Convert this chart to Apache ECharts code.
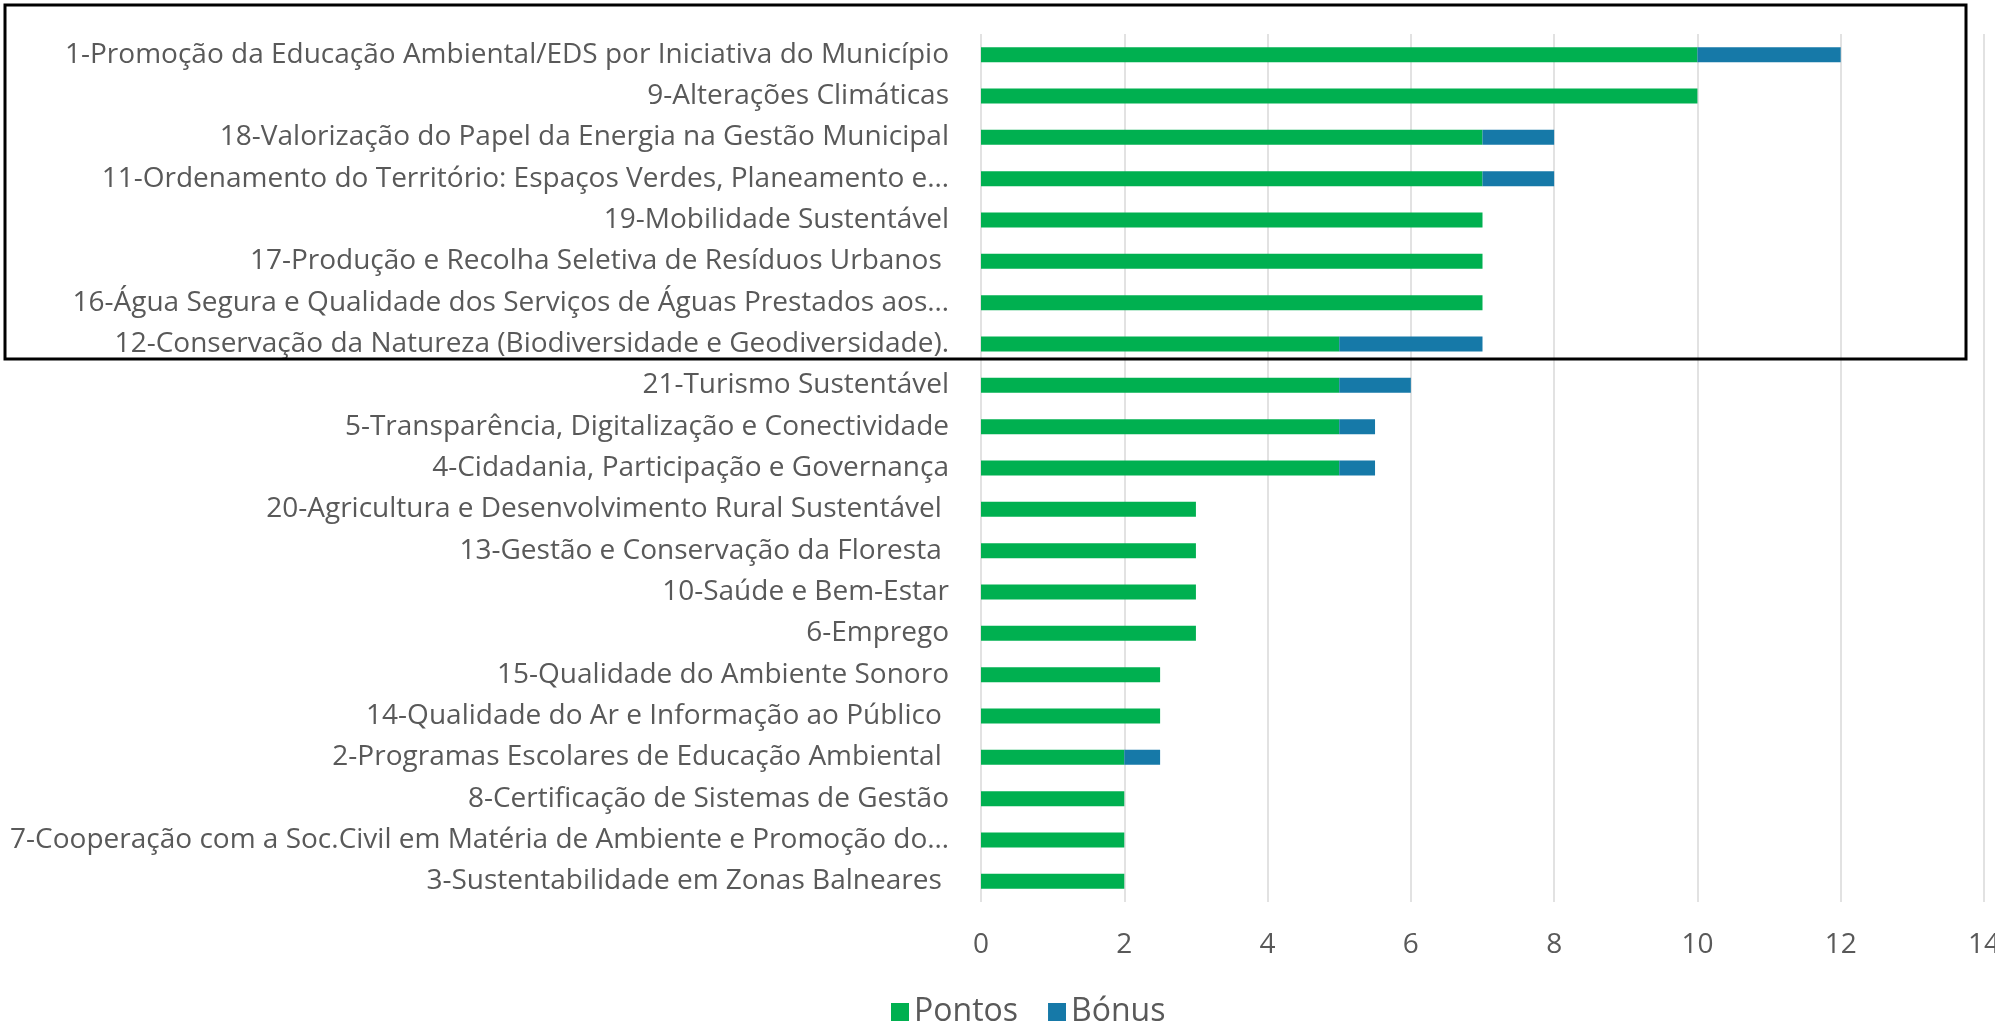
<!DOCTYPE html>
<html>
<head>
<meta charset="utf-8">
<script src="https://cdn.jsdelivr.net/npm/echarts@6/dist/echarts.min.js"></script>
<style>
  html, body { margin: 0; padding: 0; background: #fff; }
  #chart { width: 1995px; height: 1023px; }
</style>
</head>
<body>
<div id="chart"></div>
<script>
// categorias (de cima para baixo)
const categories = [
  '1-Promoção da Educação Ambiental/EDS por Iniciativa do Município',
  '9-Alterações Climáticas',
  '18-Valorização do Papel da Energia na Gestão Municipal',
  '11-Ordenamento do Território: Espaços Verdes, Planeamento e…',
  '19-Mobilidade Sustentável',
  '17-Produção e Recolha Seletiva de Resíduos Urbanos ',
  '16-Água Segura e Qualidade dos Serviços de Águas Prestados aos…',
  '12-Conservação da Natureza (Biodiversidade e Geodiversidade).',
  '21-Turismo Sustentável',
  '5-Transparência, Digitalização e Conectividade',
  '4-Cidadania, Participação e Governança',
  '20-Agricultura e Desenvolvimento Rural Sustentável ',
  '13-Gestão e Conservação da Floresta ',
  '10-Saúde e Bem-Estar',
  '6-Emprego',
  '15-Qualidade do Ambiente Sonoro',
  '14-Qualidade do Ar e Informação ao Público ',
  '2-Programas Escolares de Educação Ambiental ',
  '8-Certificação de Sistemas de Gestão',
  '7-Cooperação com a Soc.Civil em Matéria de Ambiente e Promoção do…',
  '3-Sustentabilidade em Zonas Balneares ',
];
const pontos = [10, 10, 7, 7, 7, 7, 7, 5, 5, 5, 5, 3, 3, 3, 3, 2.5, 2.5, 2, 2, 2, 2];
const bonus  = [2, 0, 1, 1, 0, 0, 0, 2, 1, 0.5, 0.5, 0, 0, 0, 0, 0, 0, 0.5, 0, 0, 0];

const FONT = '"Open Sans", "Noto Sans", sans-serif';
const TXT = '#595959';

const chart = echarts.init(document.getElementById('chart'));
chart.setOption({
  backgroundColor: '#fff',
  animation: false,
  textStyle: { fontFamily: FONT },
  grid: {
    left: 981, right: 11, top: 34, bottom: 121,
    containLabel: false, outerBoundsMode: 'none',
  },
  legend: {
    left: 886, top: 991,
    itemWidth: 18, itemHeight: 18, itemGap: 30,
    icon: 'rect',
    textStyle: { color: TXT, fontSize: 32, fontFamily: FONT },
    data: ['Pontos', 'Bónus'],
  },
  xAxis: {
    type: 'value',
    min: 0, max: 14, interval: 2,
    axisLine: { show: false },
    axisTick: { show: false },
    axisLabel: { color: TXT, fontSize: 28, margin: 29, fontFamily: FONT },
    splitLine: { lineStyle: { color: '#d9d9d9', width: 1.5 } },
  },
  yAxis: {
    type: 'category',
    inverse: true,
    data: categories,
    axisLine: { show: false },
    axisTick: { show: false },
    axisLabel: { color: TXT, fontSize: 28, margin: 32, fontFamily: FONT },
  },
  series: [
    {
      name: 'Pontos', type: 'bar', stack: 'total',
      barWidth: 15,
      itemStyle: { color: '#00b050' },
      data: pontos,
    },
    {
      name: 'Bónus', type: 'bar', stack: 'total',
      barWidth: 15,
      itemStyle: { color: '#1679a8' },
      data: bonus,
    },
  ],
  // moldura preta de destaque
  graphic: [{
    type: 'rect',
    z: 100,
    shape: { x: 5, y: 5, width: 1961, height: 354 },
    style: { fill: 'none', stroke: '#000', lineWidth: 3 },
  }],
});
</script>
</body>
</html>
